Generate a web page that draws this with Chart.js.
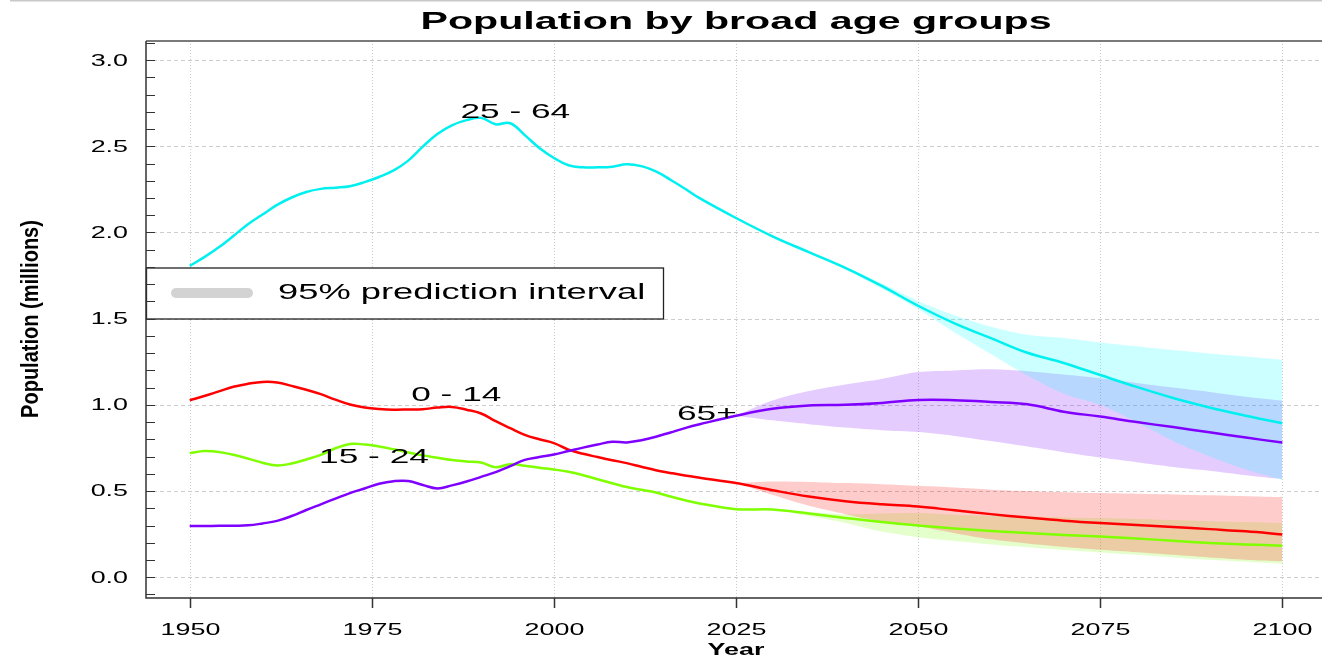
<!DOCTYPE html>
<html>
<head>
<meta charset="utf-8">
<script src="https://cdn.jsdelivr.net/npm/chart.js@4.4.1/dist/chart.umd.min.js"></script>
<style>
  html, body { margin: 0; padding: 0; background: #fff; }
  canvas { display: block; }
</style>
</head>
<body>
<canvas id="popChart" width="1322" height="657"></canvas>
<script>
// years: every 2 years for the past, every 5 for the projection
const years = [1950, 1952, 1954, 1956, 1958, 1960, 1962, 1964, 1966, 1968, 1970, 1972,
  1974, 1976, 1978, 1980, 1982, 1984, 1986, 1988, 1990, 1992, 1994, 1996, 1998, 2000,
  2002, 2004, 2006, 2008, 2010, 2012, 2014, 2016, 2018, 2020,
  2025, 2030, 2035, 2040, 2045, 2050, 2055, 2060, 2065, 2070, 2075, 2080, 2085, 2090, 2095, 2100];

const age0to14 = [1.027, 1.051, 1.078, 1.105, 1.122, 1.133, 1.13, 1.11, 1.088, 1.062, 1.03, 1.002,
  0.985, 0.976, 0.972, 0.973, 0.975, 0.984, 0.988, 0.972, 0.95, 0.905, 0.865, 0.826, 0.80, 0.778,
  0.74, 0.716, 0.697, 0.679, 0.662, 0.641, 0.621, 0.605, 0.59, 0.577,
  0.546, 0.505, 0.468, 0.441, 0.423, 0.41, 0.388, 0.366, 0.346, 0.328, 0.314, 0.303, 0.292, 0.279, 0.266, 0.248];

const age15to24 = [0.72, 0.732, 0.727, 0.71, 0.688, 0.664, 0.648, 0.66, 0.683, 0.71, 0.748, 0.773,
  0.77, 0.758, 0.742, 0.724, 0.707, 0.693, 0.68, 0.672, 0.665, 0.638, 0.656, 0.647, 0.635, 0.625,
  0.612, 0.592, 0.568, 0.545, 0.523, 0.507, 0.492, 0.468, 0.447, 0.428,
  0.395, 0.393, 0.37, 0.344, 0.32, 0.30, 0.283, 0.268, 0.256, 0.245, 0.236, 0.225, 0.211, 0.199, 0.19, 0.183];

const age25to64 = [1.806, 1.857, 1.914, 1.98, 2.048, 2.104, 2.16, 2.203, 2.235, 2.253, 2.26, 2.268,
  2.292, 2.322, 2.36, 2.417, 2.498, 2.572, 2.622, 2.652, 2.665, 2.628, 2.634, 2.565, 2.49, 2.432,
  2.39, 2.378, 2.378, 2.382, 2.396, 2.385, 2.355, 2.306, 2.254, 2.199,
  2.084, 1.978, 1.886, 1.795, 1.69, 1.575, 1.473, 1.387, 1.302, 1.243, 1.173, 1.104, 1.04, 0.985, 0.937, 0.893];

const age65plus = [0.297, 0.297, 0.298, 0.299, 0.301, 0.312, 0.327, 0.355, 0.39, 0.423, 0.456, 0.488,
  0.515, 0.542, 0.557, 0.558, 0.535, 0.515, 0.533, 0.555, 0.582, 0.61, 0.645, 0.681, 0.697, 0.712,
  0.732, 0.752, 0.77, 0.786, 0.782, 0.795, 0.815, 0.84, 0.865, 0.887,
  0.937, 0.977, 0.996, 1.0, 1.011, 1.028, 1.027, 1.017, 1.003, 0.96, 0.932, 0.90, 0.871, 0.841, 0.81, 0.781];

// 95% prediction interval, projection years only
const bandYears = [2025, 2030, 2035, 2040, 2045, 2050, 2055, 2060, 2065, 2070, 2075, 2080, 2085, 2090, 2095, 2100];
const upper0to14 = [0.546, 0.555, 0.553, 0.546, 0.54, 0.53, 0.52, 0.508, 0.50, 0.493, 0.488, 0.484, 0.48, 0.475, 0.47, 0.465];
const lower0to14 = [0.546, 0.478, 0.414, 0.366, 0.323, 0.295, 0.255, 0.22, 0.195, 0.175, 0.159, 0.145, 0.13, 0.115, 0.102, 0.092];
const upper15to24 = [0.395, 0.395, 0.38, 0.365, 0.37, 0.372, 0.362, 0.356, 0.352, 0.347, 0.343, 0.338, 0.332, 0.325, 0.32, 0.314];
const lower15to24 = [0.395, 0.39, 0.355, 0.315, 0.265, 0.232, 0.21, 0.19, 0.174, 0.158, 0.144, 0.13, 0.115, 0.101, 0.09, 0.078];
const upper25to64 = [2.084, 1.985, 1.89, 1.803, 1.705, 1.603, 1.52, 1.453, 1.407, 1.388, 1.362, 1.34, 1.318, 1.298, 1.28, 1.261];
const lower25to64 = [2.084, 1.972, 1.88, 1.787, 1.675, 1.556, 1.42, 1.295, 1.17, 1.065, 1.0, 0.90, 0.79, 0.70, 0.625, 0.565];
const upper65plus = [0.937, 1.025, 1.08, 1.118, 1.15, 1.19, 1.20, 1.206, 1.195, 1.176, 1.154, 1.127, 1.10, 1.075, 1.047, 1.024];
const lower65plus = [0.937, 0.91, 0.888, 0.868, 0.853, 0.842, 0.82, 0.79, 0.758, 0.725, 0.694, 0.667, 0.64, 0.618, 0.592, 0.57];

const xTicks = [1950, 1975, 2000, 2025, 2050, 2075, 2100];
const yTicks = [0.0, 0.5, 1.0, 1.5, 2.0, 2.5, 3.0];

const FONT = '"Liberation Sans", Arial, sans-serif';
const SX = 1.68; // the original's text is stretched sideways

function toPoints(xs, ys) {
  return xs.map((x, i) => ({ x: x, y: ys[i] }));
}

function lineSet(label, data, color, tag) {
  return {
    label: label,
    data: toPoints(years, data),
    borderColor: color,
    borderWidth: 2.5,
    pointRadius: 0,
    fill: false,
    tension: 0.4,
    order: 0,
    tag: tag
  };
}

function bandSet(label, data, fillColor, fill) {
  return {
    label: label,
    data: toPoints(bandYears, data),
    borderColor: 'rgba(0,0,0,0)',
    borderWidth: 0,
    backgroundColor: fillColor,
    pointRadius: 0,
    fill: fill,
    tension: 0.3,
    order: 1
  };
}

function sText(ctx, str, x, y, font, align, baseline, sx) {
  ctx.save();
  ctx.font = font;
  ctx.textAlign = align;
  ctx.textBaseline = baseline;
  ctx.translate(x, y);
  ctx.scale(sx, 1);
  ctx.fillText(str, 0, 0);
  ctx.restore();
}

const decor = {
  id: 'decor',
  beforeDatasetsDraw(chart) {
    const { ctx, chartArea: a, scales: { x, y } } = chart;
    ctx.save();
    ctx.strokeStyle = '#cccccc';
    ctx.lineWidth = 1;
    ctx.setLineDash([1, 2]);
    xTicks.forEach(t => {
      const px = Math.round(x.getPixelForValue(t)) + 0.5;
      ctx.beginPath();
      ctx.moveTo(px, a.top);
      ctx.lineTo(px, a.bottom);
      ctx.stroke();
    });
    ctx.setLineDash([4, 3]);
    yTicks.forEach(t => {
      const py = Math.round(y.getPixelForValue(t)) + 0.5;
      ctx.beginPath();
      ctx.moveTo(a.left, py);
      ctx.lineTo(a.right, py);
      ctx.stroke();
    });
    ctx.restore();
  },
  afterDatasetsDraw(chart) {
    const { ctx, chartArea: a, scales: { x, y } } = chart;
    ctx.save();
    ctx.fillStyle = '#000';

    // group labels
    chart.data.datasets.forEach(ds => {
      if (!ds.tag) return;
      sText(ctx, ds.label, x.getPixelForValue(ds.tag[0]), y.getPixelForValue(ds.tag[1]),
        '21px ' + FONT, 'center', 'middle', SX);
    });

    // legend box
    ctx.fillStyle = '#fff';
    ctx.fillRect(a.left, 268, 517, 51);
    ctx.strokeStyle = '#222';
    ctx.lineWidth = 1.3;
    ctx.strokeRect(a.left + 0.5, 268, 517, 51);
    ctx.strokeStyle = '#d3d3d3';
    ctx.lineWidth = 10;
    ctx.lineCap = 'round';
    ctx.beginPath();
    ctx.moveTo(176, 293);
    ctx.lineTo(248, 293);
    ctx.stroke();
    ctx.fillStyle = '#000';
    sText(ctx, '95% prediction interval', 278, 293, '22px ' + FONT, 'left', 'middle', 1.65);

    // axes
    ctx.lineCap = 'butt';
    ctx.strokeStyle = '#7a7a7a';
    ctx.lineWidth = 2;
    ctx.beginPath();
    ctx.moveTo(a.left, a.top);
    ctx.lineTo(a.right, a.top);
    ctx.stroke();
    ctx.strokeStyle = '#c8c8c8';
    ctx.lineWidth = 1.5;
    ctx.beginPath();
    ctx.moveTo(10, 0.75);
    ctx.lineTo(1322, 0.75);
    ctx.stroke();

    ctx.strokeStyle = '#333';
    ctx.lineWidth = 1.5;
    ctx.beginPath();
    ctx.moveTo(a.left, a.top);
    ctx.lineTo(a.left, a.bottom);
    ctx.lineTo(a.right, a.bottom);
    ctx.stroke();

    // x ticks
    ctx.lineWidth = 1.5;
    xTicks.forEach(t => {
      const px = Math.round(x.getPixelForValue(t)) + 0.5;
      ctx.beginPath();
      ctx.moveTo(px, a.bottom);
      ctx.lineTo(px, a.bottom + 10);
      ctx.stroke();
      sText(ctx, String(t), px, 634.5, '16px ' + FONT, 'center', 'alphabetic', SX);
    });

    // y ticks, every 0.1, pointing inwards
    ctx.lineWidth = 1;
    for (let k = -1; k <= 31; k++) {
      const py = Math.round(y.getPixelForValue(k / 10)) + 0.5;
      ctx.beginPath();
      ctx.moveTo(a.left, py);
      ctx.lineTo(a.left + 9, py);
      ctx.stroke();
    }
    yTicks.forEach(t => {
      sText(ctx, t.toFixed(1), 128, y.getPixelForValue(t) + 1, '16px ' + FONT, 'right', 'middle', SX);
    });

    // titles
    sText(ctx, 'Population by broad age groups', 736, 29, 'bold 24.5px ' + FONT, 'center', 'alphabetic', SX);
    sText(ctx, 'Year', 736, 655, 'bold 16px ' + FONT, 'center', 'alphabetic', SX);

    ctx.save();
    ctx.translate(37.7, 319);
    ctx.scale(1.24, 1);
    ctx.rotate(-Math.PI / 2);
    ctx.font = 'bold 20px ' + FONT;
    ctx.textAlign = 'center';
    ctx.textBaseline = 'alphabetic';
    ctx.fillText('Population (millions)', 0, 0);
    ctx.restore();

    ctx.restore();
  }
};

new Chart(document.getElementById('popChart').getContext('2d'), {
  type: 'line',
  data: {
    datasets: [
      lineSet('25 - 64', age25to64, '#00F0F0', [1994.7, 2.697]),
      lineSet('65+', age65plus, '#7F00FF', [2021.0, 0.946]),
      lineSet('0 - 14', age0to14, '#FF0000', [1986.6, 1.054]),
      lineSet('15 - 24', age15to24, '#7FFF00', [1975.3, 0.695]),
      bandSet('25 - 64 upper', upper25to64, 'rgba(0,255,255,0.2)', '+1'),
      bandSet('25 - 64 lower', lower25to64, 'rgba(0,255,255,0.2)', false),
      bandSet('65+ upper', upper65plus, 'rgba(127,0,255,0.2)', '+1'),
      bandSet('65+ lower', lower65plus, 'rgba(127,0,255,0.2)', false),
      bandSet('0 - 14 upper', upper0to14, 'rgba(255,0,0,0.2)', '+1'),
      bandSet('0 - 14 lower', lower0to14, 'rgba(255,0,0,0.2)', false),
      bandSet('15 - 24 upper', upper15to24, 'rgba(127,255,0,0.2)', '+1'),
      bandSet('15 - 24 lower', lower15to24, 'rgba(127,255,0,0.2)', false)
    ]
  },
  options: {
    responsive: false,
    animation: false,
    events: [],
    layout: { padding: { left: 146, right: 0, top: 41, bottom: 59 } },
    scales: {
      x: { type: 'linear', display: false, min: 1944.0, max: 2105.45 },
      y: { type: 'linear', display: false, min: -0.1206, max: 3.111 }
    },
    plugins: {
      legend: { display: false },
      tooltip: { enabled: false },
      title: { display: false }
    }
  },
  plugins: [decor]
});
</script>
</body>
</html>
